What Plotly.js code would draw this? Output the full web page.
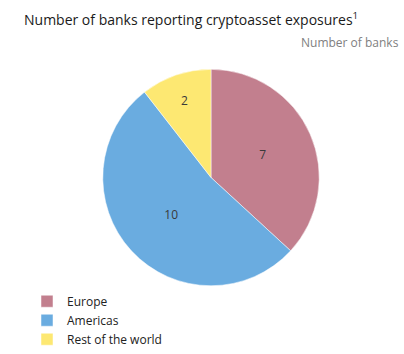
<!DOCTYPE html>
<html>
<head>
<meta charset="utf-8">
<script src="https://cdn.plot.ly/plotly-3.0.1.min.js"></script>
<style>html,body{margin:0;padding:0;background:#fff;}#chart{width:404px;height:354px;}</style>
</head>
<body>
<div id="chart"></div>
<script>
const regions = ["Europe", "Americas", "Rest of the world"];
const banks = [7, 10, 2];
const colors = ["#c27f8e", "#6aace0", "#fde872"];

const data = [{
  type: "pie",
  labels: regions,
  values: banks,
  sort: false,
  direction: "clockwise",
  rotation: 0,
  marker: {colors: colors, line: {color: "#ffffff", width: 0.5}},
  textinfo: "value",
  textposition: "inside",
  insidetextorientation: "horizontal",
  textfont: {family: "Open Sans, sans-serif", size: 12, color: "#3a3a3a"},
  hoverinfo: "label+value",
  domain: {x: [0.25, 0.7946], y: [0.1836, 0.802]}
}];

const layout = {
  width: 404, height: 354,
  margin: {l: 0, r: 0, t: 0, b: 0},
  paper_bgcolor: "#ffffff",
  showlegend: true,
  legend: {
    x: 27/404, y: 1 - 290/354, xanchor: "left", yanchor: "top",
    font: {family: "Open Sans, sans-serif", size: 12, color: "#222222"},
    tracegroupgap: 0, itemwidth: 30
  },
  annotations: [
    {text: "Number of banks reporting cryptoasset exposures<sup>1</sup>", xref: "paper", yref: "paper",
     x: 22/404, y: 1 - 7/354, xanchor: "left", yanchor: "top", showarrow: false,
     font: {family: "Open Sans, sans-serif", size: 14, color: "#1a1a1a"}},
    {text: "Number of banks", xref: "paper", yref: "paper",
     x: 401/404, y: 1 - 32/354, xanchor: "right", yanchor: "top", showarrow: false,
     font: {family: "Open Sans, sans-serif", size: 12, color: "#808080"}}
  ]
};

Plotly.newPlot("chart", data, layout, {displayModeBar: false, staticPlot: true});
</script>
</body>
</html>
